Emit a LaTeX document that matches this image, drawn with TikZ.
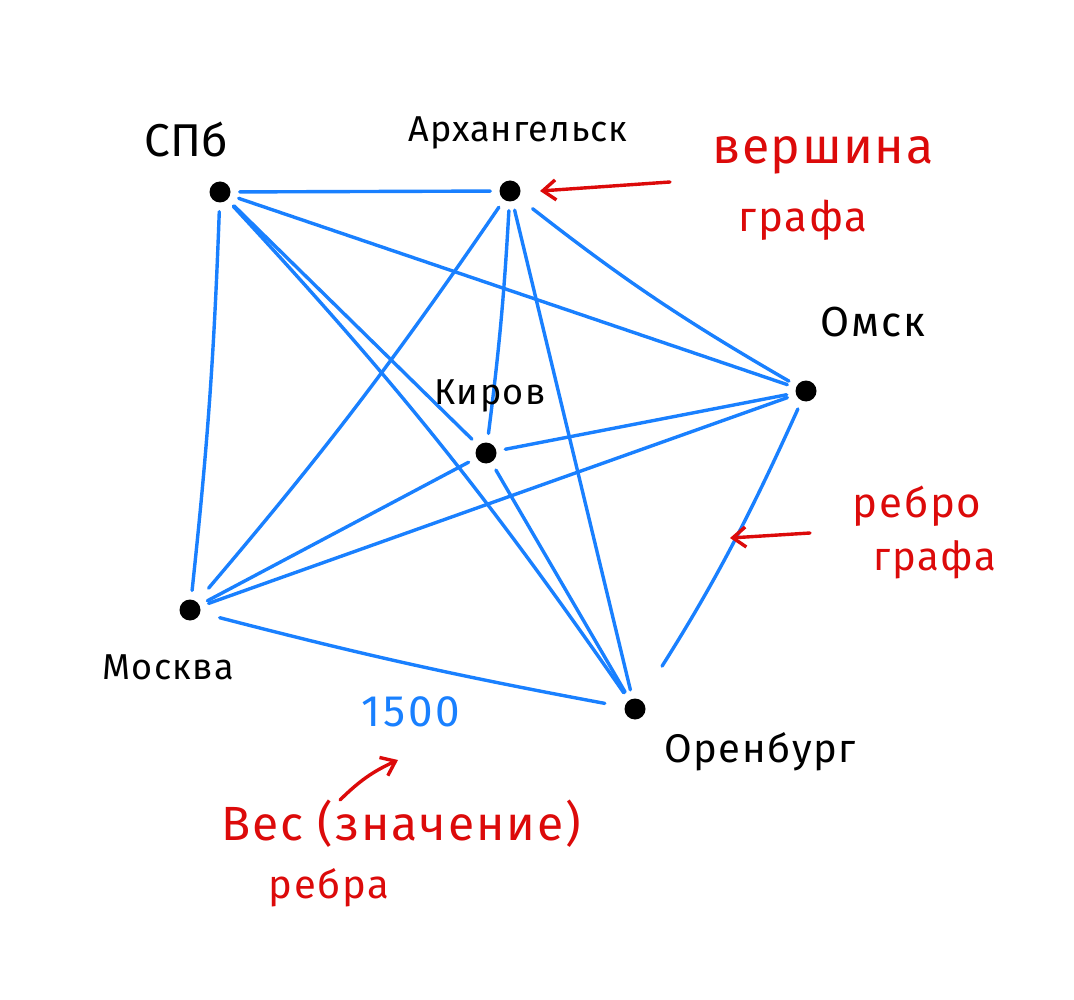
\documentclass[tikz,border=0pt]{standalone}
\usepackage{fontspec}
\setmainfont{Fira Sans}
\usetikzlibrary{arrows.meta}
\definecolor{edgeblue}{RGB}{25,128,255}
\definecolor{notered}{RGB}{220,10,10}
\begin{document}
\begin{tikzpicture}[x=1pt,y=-1pt,
  vertex/.style={circle,fill=black,inner sep=0pt,minimum size=21pt},
  edge/.style={edgeblue,line width=3.4pt,line cap=round,shorten <=9pt,shorten >=9pt},
  city/.style={font=\fontsize{36}{40}\selectfont\addfontfeature{LetterSpace=4},black},
  note/.style={font=\fontsize{44}{50}\selectfont\addfontfeature{LetterSpace=4},notered,align=left},
  pointer/.style={notered,line width=3.4pt,line cap=round,-{Straight Barb[length=13pt,width=20pt,line width=3.4pt]}}]
\useasboundingbox (0,0) rectangle (1074,1000);
\fill[white] (0,0) rectangle (1074,1000);
% vertices
\node[vertex] (spb) at (220,192) {};
\node[vertex] (arh) at (510,191) {};
\node[vertex] (omsk) at (806,391) {};
\node[vertex] (kir) at (486,453) {};
\node[vertex] (msk) at (190,610) {};
\node[vertex] (orb) at (635,709) {};
% edges
\draw[edge] (spb) -- (arh);
\draw[edge] (spb) to[bend left=2] (msk);
\draw[edge] (spb) -- (omsk);
\draw[edge] (spb) -- (kir);
\draw[edge] (spb) to[bend left=4] (orb);
\draw[edge,shorten >=18pt] (arh) to[bend left=3] (msk);
\draw[edge] (arh) to[bend left=2] (kir);
\draw[edge,shorten <=18pt] (arh) to[bend right=4] (omsk);
\draw[edge] (arh) -- (orb);
\draw[edge] (kir) -- (omsk);
\draw[edge] (msk) -- (omsk);
\draw[edge,shorten >=40pt] (omsk) to[bend left=4] (orb);
\draw[edge] (msk) -- (kir);
\draw[edge] (kir) -- (orb);
\draw[edge,shorten <=20pt,shorten >=20pt] (msk) to[bend right=2] (orb);
% labels
\node[city,font=\fontsize{46}{50}\selectfont] (lspb) at (186,140) {СПб};
\node[city,font=\fontsize{36}{40}\selectfont\addfontfeature{LetterSpace=3}] (larh) at (518,133) {Архангельск};
\node[city,font=\fontsize{42}{46}\selectfont\addfontfeature{LetterSpace=4}] (lomsk) at (873,322) {Омск};
\node[city] (lkir) at (490,396) {Киров};
\node[city] (lmsk) at (168,667) {Москва};
\node[city,font=\fontsize{40}{44}\selectfont\addfontfeature{LetterSpace=4}] (lorb) at (760,752) {Оренбург};
\node[font=\fontsize{44}{48}\selectfont\addfontfeature{LetterSpace=6},edgeblue] (w) at (411,712) {1500};
% notes
\node[note,font=\fontsize{50}{54}\selectfont\addfontfeature{LetterSpace=3}] (n1) at (823,155) {вершина};
\node[note,font=\fontsize{42}{46}\selectfont\addfontfeature{LetterSpace=4}] (n1b) at (803,220) {графа};
\node[note,font=\fontsize{42}{46}\selectfont\addfontfeature{LetterSpace=4}] (n2) at (917,506) {ребро};
\node[note,font=\fontsize{40}{44}\selectfont\addfontfeature{LetterSpace=4}] (n2b) at (935,560) {графа};
\node[note,font=\fontsize{48}{52}\selectfont\addfontfeature{LetterSpace=4}] (n3) at (401,824) {Вес (значение)};
\node[note,font=\fontsize{40}{44}\selectfont\addfontfeature{LetterSpace=4}] (n3b) at (329,888) {ребра};
% pointers
\coordinate (p1s) at (670,182);
\coordinate (p1e) at (540,191);
\coordinate (p2s) at (810,533);
\coordinate (p2e) at (730,538);
\coordinate (p3s) at (340,800);
\coordinate (p3e) at (398,760);
\draw[pointer] (p1s) -- (p1e);
\draw[pointer] (p2s) -- (p2e);
\draw[pointer] (p3s) to[bend left=10] (p3e);
\end{tikzpicture}
\end{document}
